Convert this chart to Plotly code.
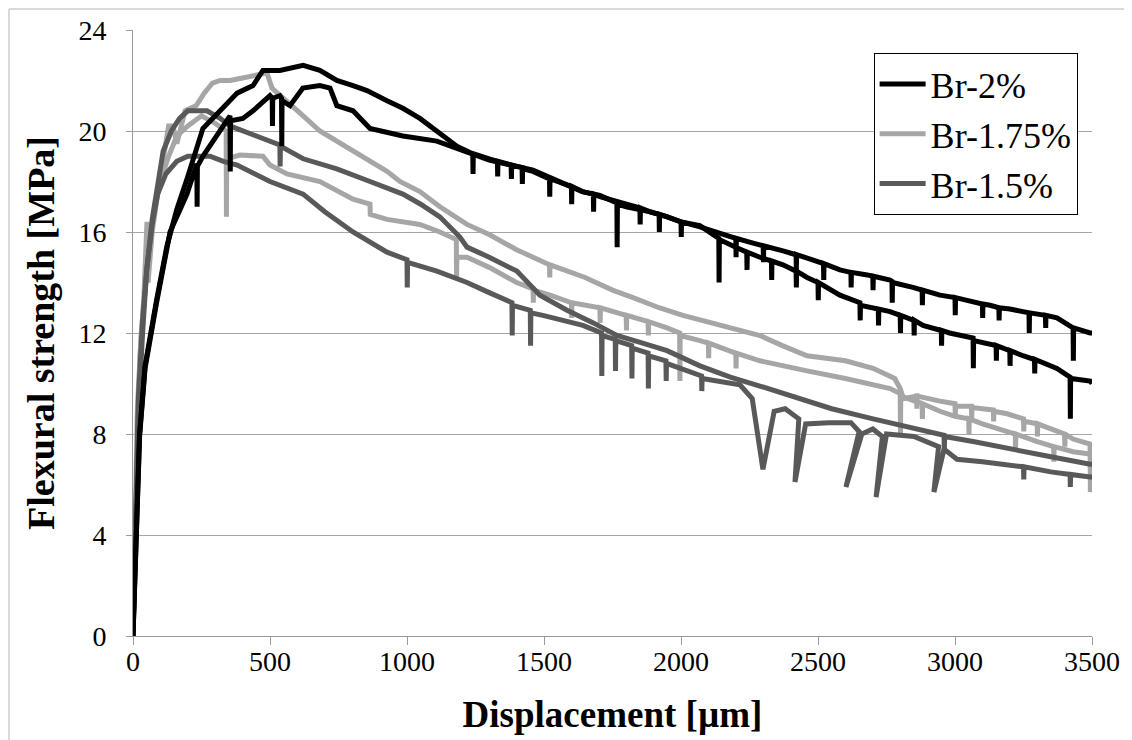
import plotly.graph_objects as go

# ---------------- data ----------------
series_names = ["Br-2%", "Br-1.75%", "Br-1.5%"]

# Br-2 %, specimen 1 (highest peak)
br2_a_x = [0, 12, 24, 44, 62, 86, 123, 160, 200, 255, 318, 380, 438, 474, 536, 580, 621, 682, 744, 803,
           854, 927, 985, 1047, 1109, 1182, 1240, 1241, 1242, 1300, 1330, 1331, 1332, 1400, 1420, 1421, 1422,
           1460, 1520, 1521, 1522, 1550, 1600, 1601, 1602, 1640, 1680, 1681, 1682, 1704, 1800, 1850, 1851,
           1852, 1887, 1920, 1921, 1922, 1950, 2000, 2001, 2002, 2069, 2150, 2200, 2201, 2202, 2250, 2300,
           2301, 2302, 2372, 2420, 2421, 2422, 2480, 2520, 2521, 2522, 2580, 2620, 2621, 2622, 2680, 2700,
           2701, 2702, 2763, 2770, 2771, 2772, 2850, 2880, 2881, 2882, 2945, 3000, 3001, 3002, 3040, 3100,
           3101, 3102, 3128, 3160, 3161, 3162, 3200, 3270, 3271, 3272, 3330, 3331, 3332, 3372, 3431, 3432,
           3433, 3493, 3500]
br2_a_y = [0, 4.0, 8.0, 10.7, 11.9, 13.3, 15.4, 16.9, 18.2, 20.1, 20.8, 21.5, 21.8, 22.4, 22.4, 22.5, 22.6,
           22.4, 22.0, 21.8, 21.6, 21.2, 20.9, 20.5, 20.0, 19.4, 19.1, 18.3, 19.1, 18.9, 18.8, 18.2, 18.8,
           18.6, 18.55, 17.9, 18.5, 18.4, 18.1, 17.4, 18.1, 18.0, 17.8, 17.1, 17.8, 17.6, 17.5, 16.8, 17.5,
           17.4, 17.1, 16.95, 16.3, 16.95, 16.8, 16.7, 16.0, 16.7, 16.6, 16.4, 15.8, 16.4, 16.2, 15.9,
           15.75, 15.0, 15.75, 15.6, 15.45, 14.8, 15.45, 15.25, 15.1, 14.5, 15.1, 14.9, 14.75, 14.1, 14.75,
           14.5, 14.4, 13.8, 14.4, 14.3, 14.25, 13.7, 14.25, 14.1, 14.05, 13.2, 14.0, 13.8, 13.7, 13.1, 13.7,
           13.5, 13.4, 12.7, 13.4, 13.3, 13.15, 12.6, 13.15, 13.1, 13.0, 12.5, 13.0, 12.95, 12.8, 12.0,
           12.8, 12.7, 12.2, 12.7, 12.6, 12.2, 10.9, 12.2, 12.0, 12.0]

# Br-2 %, specimen 2
br2_b_x = [0, 12, 24, 44, 62, 86, 123, 135, 197, 233, 234, 235, 255, 306, 354, 355, 356, 401, 438, 500,
           508, 509, 510, 536, 542, 543, 544, 573, 620, 682, 719, 744, 803, 865, 985, 1109, 1182, 1300,
           1380, 1381, 1382, 1460, 1550, 1640, 1704, 1766, 1767, 1768, 1800, 1887, 1950, 2000, 2069, 2100,
           2138, 2139, 2140, 2200, 2240, 2241, 2242, 2288, 2330, 2331, 2332, 2372, 2420, 2421, 2422, 2460,
           2500, 2501, 2502, 2580, 2653, 2654, 2655, 2720, 2721, 2722, 2763, 2800, 2801, 2802, 2850, 2851,
           2852, 2883, 2950, 2951, 2952, 2980, 3066, 3067, 3068, 3150, 3151, 3152, 3200, 3201, 3202, 3248,
           3290, 3291, 3292, 3372, 3420, 3421, 3422, 3493, 3500]
br2_b_y = [0, 3.8, 7.9, 10.6, 11.8, 13.2, 15.3, 16.0, 17.5, 18.7, 17.0, 18.6, 19.0, 19.8, 20.6, 18.4, 20.4,
           20.5, 20.8, 21.4, 21.3, 20.2, 21.3, 21.4, 21.3, 19.4, 21.2, 21.0, 21.7, 21.8, 21.7, 21.0, 20.8,
           20.1, 19.8, 19.6, 19.3, 18.85, 18.65, 18.1, 18.65, 18.45, 18.0, 17.6, 17.45, 17.15, 15.4, 17.1,
           17.0, 16.8, 16.6, 16.4, 16.25, 16.0, 15.75, 14.0, 15.7, 15.4, 15.2, 14.5, 15.2, 15.0, 14.85, 14.1,
           14.85, 14.7, 14.45, 13.8, 14.45, 14.2, 14.0, 13.3, 14.0, 13.5, 13.2, 12.5, 13.1, 12.95, 12.3,
           12.95, 12.85, 12.7, 12.0, 12.7, 12.5, 11.9, 12.5, 12.3, 12.1, 11.5, 12.1, 12.0, 11.8, 10.6, 11.7,
           11.5, 10.9, 11.5, 11.3, 10.7, 11.3, 11.1, 10.95, 10.4, 10.95, 10.6, 10.25, 8.6, 10.2, 10.1, 10.0]

# Br-1.75 %, specimen 1
br175_a_x = [0, 8, 15, 25, 40, 51, 55, 70, 90, 110, 130, 146, 160, 190, 230, 260, 290, 318, 354, 400, 438,
             489, 507, 562, 621, 682, 803, 927, 974, 1047, 1120, 1219, 1300, 1400, 1520, 1521, 1522, 1650,
             1750, 1825, 1920, 2007, 2100, 2190, 2288, 2370, 2460, 2600, 2701, 2780, 2800, 2812, 2860, 2861,
             2862, 2945, 3000, 3001, 3002, 3060, 3061, 3062, 3100, 3140, 3141, 3142, 3190, 3250, 3251, 3252,
             3300, 3301, 3302, 3350, 3400, 3401, 3402, 3431, 3493, 3494, 3500]
br175_a_y = [0, 4.0, 8.0, 11.0, 13.5, 16.4, 14.0, 16.0, 17.5, 19.0, 20.2, 20.2, 19.5, 20.8, 21.0, 21.5,
             21.9, 22.0, 22.0, 22.1, 22.2, 22.3, 21.7, 21.2, 20.6, 20.0, 19.2, 18.4, 18.0, 17.6, 17.0, 16.3,
             15.9, 15.3, 14.7, 14.2, 14.7, 14.2, 13.7, 13.4, 13.0, 12.7, 12.45, 12.2, 11.9, 11.5, 11.1, 10.9,
             10.6, 10.2, 9.8, 9.4, 9.5, 9.0, 9.5, 9.3, 9.2, 8.7, 9.1, 9.1, 8.6, 9.05, 9.0, 8.95, 8.5, 8.9,
             8.8, 8.6, 8.1, 8.5, 8.4, 7.9, 8.4, 8.2, 8.0, 7.5, 8.0, 7.8, 7.6, 5.7, 6.5]

# Br-1.75 %, specimen 2
br175_b_x = [0, 8, 16, 30, 45, 60, 80, 100, 130, 160, 200, 250, 300, 340, 341, 342, 390, 440, 474, 500,
             562, 682, 803, 865, 866, 927, 1047, 1120, 1180, 1181, 1182, 1219, 1300, 1400, 1460, 1461, 1462,
             1522, 1600, 1601, 1602, 1704, 1705, 1706, 1800, 1801, 1802, 1880, 1881, 1882, 1949, 1995, 1996,
             1997, 2069, 2100, 2101, 2102, 2150, 2200, 2201, 2202, 2288, 2370, 2460, 2600, 2763, 2800, 2801,
             2802, 2880, 2881, 2882, 2945, 3000, 3050, 3051, 3052, 3100, 3190, 3220, 3221, 3222, 3300, 3360,
             3361, 3362, 3431, 3493, 3500]
br175_b_y = [0, 4.5, 9.0, 12.0, 14.0, 15.5, 17.0, 18.0, 19.0, 19.8, 20.2, 20.6, 20.3, 20.0, 16.6, 18.9,
             19.05, 19.0, 19.0, 18.65, 18.3, 18.0, 17.3, 17.1, 16.7, 16.5, 16.3, 16.0, 15.7, 14.1, 15.0,
             15.0, 14.6, 14.0, 13.75, 13.2, 13.7, 13.5, 13.2, 12.6, 13.2, 13.0, 12.4, 13.0, 12.7, 12.1, 12.7,
             12.45, 11.9, 12.45, 12.2, 12.0, 10.1, 11.9, 11.7, 11.6, 11.0, 11.6, 11.4, 11.2, 10.6, 11.2,
             10.9, 10.7, 10.5, 10.2, 9.8, 9.6, 8.0, 9.5, 9.2, 8.6, 9.2, 8.9, 8.7, 8.6, 8.0, 8.6, 8.4, 8.1,
             8.0, 7.4, 8.0, 7.7, 7.5, 6.9, 7.5, 7.3, 7.2, 7.2]

# Br-1.5 %, specimen 1
br15_a_x = [0, 10, 20, 35, 50, 70, 90, 110, 140, 170, 200, 233, 270, 318, 354, 438, 536, 537, 538, 621,
            744, 865, 985, 1050, 1120, 1193, 1219, 1300, 1401, 1485, 1584, 1680, 1766, 1860, 1949, 2069,
            2180, 2288, 2400, 2550, 2701, 2800, 2900, 2960, 2961, 2962, 3066, 3200, 3350, 3493, 3500]
br15_a_y = [0, 5.0, 9.0, 12.0, 14.5, 16.5, 18.0, 19.2, 20.0, 20.5, 20.8, 20.8, 20.8, 20.5, 20.2, 19.85,
            19.45, 18.6, 19.4, 18.9, 18.5, 18.0, 17.5, 17.1, 16.6, 15.8, 15.4, 15.0, 14.45, 13.5, 12.9,
            12.4, 11.9, 11.6, 11.3, 10.7, 10.25, 9.9, 9.5, 9.0, 8.6, 8.35, 8.1, 7.95, 7.3, 7.9, 7.7, 7.4,
            7.1, 6.8, 6.8]

# Br-1.5 %, specimen 2
br15_b_x = [0, 10, 20, 35, 50, 70, 90, 120, 160, 200, 240, 281, 330, 380, 500, 621, 700, 803, 927, 1000,
            1001, 1002, 1109, 1219, 1300, 1383, 1384, 1385, 1450, 1451, 1452, 1496, 1642, 1710, 1711, 1712,
            1760, 1761, 1762, 1820, 1821, 1822, 1880, 1881, 1882, 1945, 1946, 1947, 2075, 2076, 2077, 2215,
            2260, 2299, 2340, 2380, 2430, 2416, 2455, 2540, 2620, 2650, 2602, 2660, 2700, 2735, 2712, 2750,
            2850, 2940, 2923, 2960, 3007, 3100, 3190, 3250, 3251, 3252, 3350, 3420, 3421, 3422, 3493, 3500]
br15_b_y = [0, 5.5, 9.5, 12.5, 14.5, 16.3, 17.5, 18.3, 18.8, 19.0, 19.0, 19.0, 18.8, 18.65, 18.0, 17.5,
            16.8, 16.0, 15.2, 14.9, 13.8, 14.8, 14.45, 14.0, 13.6, 13.2, 11.9, 13.1, 12.9, 11.5, 12.8, 12.7,
            12.3, 12.0, 10.3, 11.9, 11.75, 10.5, 11.7, 11.5, 10.2, 11.4, 11.2, 9.8, 11.1, 10.9, 10.1, 10.8,
            10.3, 9.7, 10.2, 9.95, 9.4, 6.6, 8.9, 9.0, 8.6, 6.1, 8.4, 8.45, 8.45, 8.1, 5.9, 8.0, 8.2, 7.9,
            5.5, 8.0, 7.9, 7.5, 5.7, 7.4, 7.0, 6.9, 6.8, 6.7, 6.2, 6.7, 6.5, 6.4, 5.9, 6.4, 6.3, 6.3]

x_ticks = [0, 500, 1000, 1500, 2000, 2500, 3000, 3500]
y_ticks = [0, 4, 8, 12, 16, 20, 24]

# ---------------- styling ----------------
FONT = "Liberation Serif"
C_BLACK = "#000000"
C_LIGHT = "#a6a6a6"
C_DARK = "#595959"
LW = 5

fig = go.Figure()

def add(xs, ys, color, name, show, rank):
    fig.add_trace(go.Scatter(
        x=xs, y=ys, mode="lines", name=name, legendgroup=name, showlegend=show,
        legendrank=rank, line=dict(color=color, width=LW), hoverinfo="skip"))

add(br175_a_x, br175_a_y, C_LIGHT, series_names[1], True, 2)
add(br175_b_x, br175_b_y, C_LIGHT, series_names[1], False, 2)
add(br15_a_x, br15_a_y, C_DARK, series_names[2], True, 3)
add(br15_b_x, br15_b_y, C_DARK, series_names[2], False, 3)
add(br2_a_x, br2_a_y, C_BLACK, series_names[0], True, 1)
add(br2_b_x, br2_b_y, C_BLACK, series_names[0], False, 1)

AX_GRAY = "#9a9a9a"
fig.update_layout(
    width=1132, height=740,
    margin=dict(l=125, r=48, t=22, b=112),
    paper_bgcolor="white", plot_bgcolor="white",
    font=dict(family=FONT, color="black"),
    showlegend=True,
    legend=dict(
        x=0.985, y=0.962, xanchor="right", yanchor="top",
        bordercolor="black", borderwidth=1, bgcolor="white",
        font=dict(family=FONT, size=36, color="black"),
        tracegroupgap=0, itemwidth=46,
    ),
    xaxis=dict(
        range=[0, 3500], tickmode="array", tickvals=x_ticks,
        ticktext=[str(v) for v in x_ticks], automargin=False,
        showgrid=False, zeroline=False,
        showline=True, linecolor=AX_GRAY, linewidth=1,
        ticks="outside", ticklen=8, tickcolor=AX_GRAY, tickwidth=1,
        tickfont=dict(family=FONT, size=28, color="black"),
        ticklabelstandoff=-8,
        title=dict(text="<b>Displacement [µm]</b>", font=dict(family=FONT, size=37, color="black"), standoff=25),
    ),
    yaxis=dict(
        range=[0, 24], tickmode="array", tickvals=y_ticks,
        ticktext=[str(v) for v in y_ticks], automargin=False,
        showgrid=True, gridcolor="#a6a6a6", gridwidth=1, zeroline=False,
        showline=True, linecolor=AX_GRAY, linewidth=1,
        ticks="outside", ticklen=6, tickcolor=AX_GRAY, tickwidth=1,
        tickfont=dict(family=FONT, size=28, color="black"),
        ticklabelstandoff=14,
        title=dict(text="<b>Flexural strength [MPa]</b>", font=dict(family=FONT, size=38, color="black"), standoff=12),
    ),
    shapes=[
        dict(type="line", xref="paper", yref="paper", x0=-0.1293, x1=1.06, y0=1.0347, y1=1.0347,
             line=dict(color="#d9d9d9", width=2)),
        dict(type="line", xref="paper", yref="paper", x0=-0.1293, x1=-0.1293, y0=1.0347, y1=-0.2,
             line=dict(color="#d9d9d9", width=2)),
    ],
)

fig.write_html("out.html")
